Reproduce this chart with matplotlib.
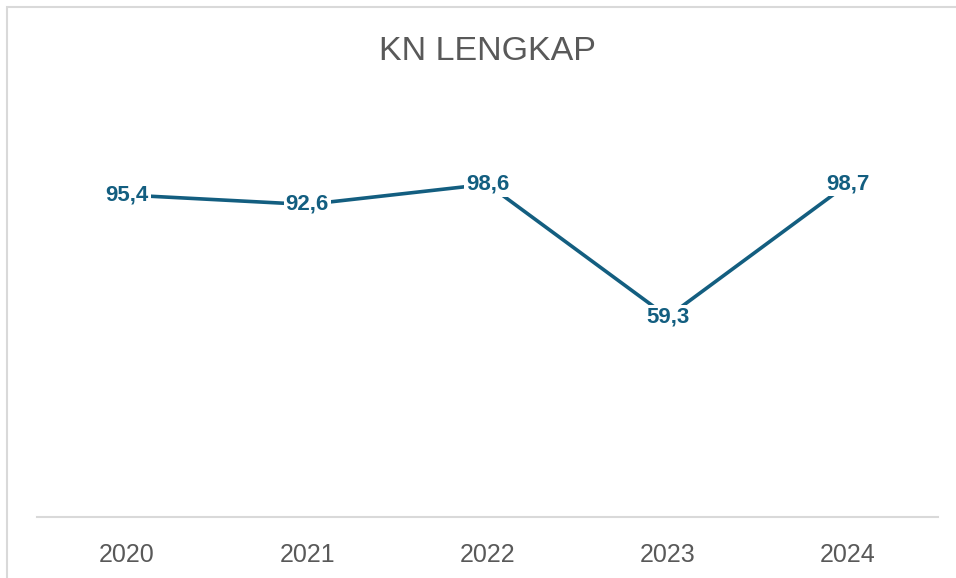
import matplotlib
matplotlib.use("Agg")
import matplotlib.pyplot as plt
from matplotlib.patches import Rectangle

years = ["2020", "2021", "2022", "2023", "2024"]
values = [95.4, 92.6, 98.6, 59.3, 98.7]
labels = ["95,4", "92,6", "98,6", "59,3", "98,7"]
title = "KN LENGKAP"

W, H = 956, 578
fig = plt.figure(figsize=(W / 100, H / 100), dpi=100)
fig.patch.set_facecolor("white")

# chart border (left & top visible)
fig.add_artist(Rectangle((7 / W, -0.1), 1.2, (H - 7) / H + 0.1, transform=fig.transFigure,
                         fill=False, edgecolor="#D9D9D9", linewidth=1.5))

ax = fig.add_axes([37 / W, (H - 517) / H, (938 - 37) / W, (517 - 112) / H])
ax.set_xlim(-0.5, 4.5)
ax.set_ylim(0, 120)
x = list(range(len(years)))
line_color = "#135E80"
ax.plot(x, values, color=line_color, linewidth=2.6, solid_capstyle="butt", zorder=2)
for xi, v, lab in zip(x, values, labels):
    ax.text(xi, v, lab, ha="center", va="center", fontsize=16, fontweight="bold",
            color=line_color, family=["Liberation Sans", "DejaVu Sans"], zorder=3,
            bbox=dict(boxstyle="square,pad=0.08", facecolor="white", edgecolor="none"))

for s in ["left", "right", "top"]:
    ax.spines[s].set_visible(False)
ax.spines["bottom"].set_color("#D9D9D9")
ax.spines["bottom"].set_linewidth(1.5)
ax.set_yticks([])
ax.set_xticks(x)
ax.set_xticklabels(years, fontsize=18, color="#595959", family=["Liberation Sans", "DejaVu Sans"])
ax.tick_params(axis="x", length=0, pad=19)

fig.text(487.5 / W, (H - 52) / H, title, ha="center", va="center", fontsize=24.5,
         color="#595959", family=["Liberation Sans", "DejaVu Sans"])

fig.savefig("out.png", dpi=100)
